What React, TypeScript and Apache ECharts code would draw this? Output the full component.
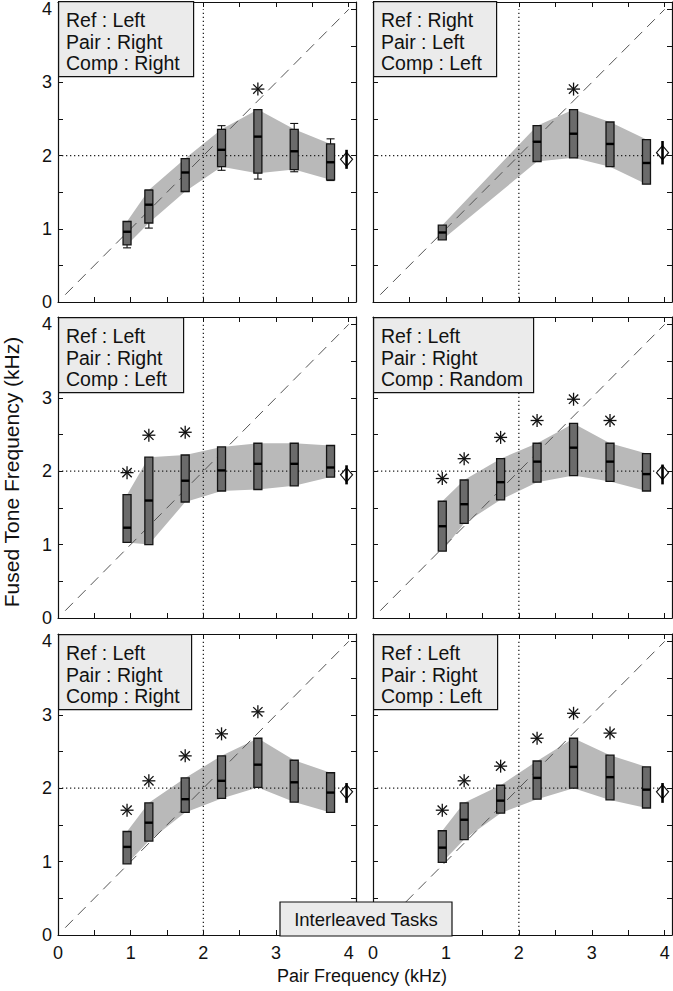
import React, { useEffect, useRef } from "react";
import * as echarts from "echarts";

// ---------------- data ----------------
const tickLabelsShown = [0, 1, 2, 3, 4];
const boxX7 = [0.95, 1.25, 1.75, 2.25, 2.75, 3.25, 3.75];
const boxX5 = [0.95, 2.25, 2.75, 3.25, 3.75];
const diamondX = 3.97;

const panelLabels = [
  ["Ref : Left", "Pair : Right", "Comp : Right"],
  ["Ref : Right", "Pair : Left", "Comp : Left"],
  ["Ref : Left", "Pair : Right", "Comp : Left"],
  ["Ref : Left", "Pair : Right", "Comp : Random"],
  ["Ref : Left", "Pair : Right", "Comp : Right"],
  ["Ref : Left", "Pair : Right", "Comp : Left"],
];

// panel A (top left)
const aLow = [0.78, 1.08, 1.51, 1.85, 1.76, 1.81, 1.67];
const aMed = [0.96, 1.33, 1.77, 2.08, 2.26, 2.06, 1.91];
const aHigh = [1.1, 1.53, 1.96, 2.36, 2.63, 2.36, 2.16];
const aWhiskLow = [0.74, 1.01, 1.51, 1.8, 1.68, 1.78, 1.66];
const aWhiskHigh = [1.1, 1.53, 1.96, 2.41, 2.63, 2.44, 2.23];
const aStars = [null, null, null, null, 2.91, null, null];

// panel B (top right)
const bLow = [0.85, 1.92, 1.97, 1.85, 1.61];
const bMed = [0.95, 2.19, 2.3, 2.16, 1.9];
const bHigh = [1.05, 2.41, 2.63, 2.46, 2.22];
const bStars = [null, null, 2.91, null, null];

// panel C (middle left)
const cLow = [1.03, 1.0, 1.58, 1.73, 1.75, 1.8, 1.92];
const cMed = [1.23, 1.6, 1.87, 2.01, 2.1, 2.1, 2.05];
const cHigh = [1.68, 2.19, 2.22, 2.33, 2.38, 2.38, 2.35];
const cStars = [1.98, 2.49, 2.53, null, null, null, null];

// panel D (middle right)
const dLow = [0.91, 1.29, 1.61, 1.85, 1.94, 1.86, 1.73];
const dMed = [1.25, 1.55, 1.85, 2.13, 2.32, 2.13, 1.96];
const dHigh = [1.59, 1.88, 2.17, 2.38, 2.65, 2.38, 2.24];
const dStars = [1.9, 2.17, 2.46, 2.69, 2.98, 2.69, null];

// panel E (bottom left)
const eLow = [0.97, 1.28, 1.67, 1.86, 2.01, 1.81, 1.67];
const eMed = [1.2, 1.53, 1.85, 2.1, 2.32, 2.08, 1.94];
const eHigh = [1.41, 1.8, 2.14, 2.44, 2.68, 2.38, 2.21];
const eStars = [1.7, 2.1, 2.44, 2.74, 3.04, null, null];

// panel F (bottom right)
const fLow = [0.99, 1.3, 1.66, 1.85, 2.0, 1.84, 1.73];
const fMed = [1.19, 1.57, 1.83, 2.14, 2.29, 2.15, 1.98];
const fHigh = [1.42, 1.8, 2.04, 2.37, 2.68, 2.45, 2.29];
const fStars = [1.7, 2.1, 2.3, 2.68, 3.02, 2.75, null];

// reference diamond (mean, low, high) per panel
const refMean = [1.95, 2.04, 1.95, 1.98, 1.95, 1.95];
const refLow = [1.82, 1.88, 1.82, 1.82, 1.8, 1.8];
const refHigh = [2.08, 2.2, 2.08, 2.09, 2.07, 2.07];

// ---------------- layout ----------------
const FONT = '"Liberation Sans", Arial, Helvetica, sans-serif';
const grids = [
  { left: 58, top: 2, width: 298, height: 300 },
  { left: 373, top: 2, width: 299, height: 300 },
  { left: 58, top: 317, width: 298, height: 301 },
  { left: 373, top: 317, width: 299, height: 301 },
  { left: 58, top: 634, width: 298, height: 301 },
  { left: 373, top: 634, width: 299, height: 301 },
];
const legendWidths = [135, 123, 125, 160, 133, 124];

type Panel = {
  xs: number[];
  low: number[];
  med: number[];
  high: number[];
  wLow?: number[];
  wHigh?: number[];
  stars: (number | null)[];
};

const panels: Panel[] = [
  { xs: boxX7, low: aLow, med: aMed, high: aHigh, wLow: aWhiskLow, wHigh: aWhiskHigh, stars: aStars },
  { xs: boxX5, low: bLow, med: bMed, high: bHigh, stars: bStars },
  { xs: boxX7, low: cLow, med: cMed, high: cHigh, stars: cStars },
  { xs: boxX7, low: dLow, med: dMed, high: dHigh, stars: dStars },
  { xs: boxX7, low: eLow, med: eMed, high: eHigh, stars: eStars },
  { xs: boxX7, low: fLow, med: fMed, high: fHigh, stars: fStars },
];

function buildOption() {
  const xAxis: any[] = [];
  const yAxis: any[] = [];
  const series: any[] = [];
  const graphic: any[] = [];

  const axisBase = (gridIndex: number) => ({
    type: "value",
    gridIndex,
    min: 0,
    max: 4.1,
    interval: 0.5,
    axisLine: { show: true, onZero: false, lineStyle: { color: "#111", width: 1.2 } },
    axisTick: { show: true, inside: true, length: 5, lineStyle: { color: "#111", width: 1 } },
    splitLine: { show: false },
  });
  const labelCfg = (show: boolean, margin: number) => ({
    show,
    fontSize: 18,
    fontFamily: FONT,
    color: "#111",
    margin,
    formatter: (v: number) =>
      tickLabelsShown.indexOf(Math.round(v * 1000) / 1000) >= 0 ? String(v) : "",
  });

  panels.forEach((p, i) => {
    const bottomRow = i >= 4;
    const leftCol = i % 2 === 0;
    xAxis.push({ ...axisBase(i), position: "bottom", axisLabel: labelCfg(bottomRow, 9) });
    xAxis.push({ ...axisBase(i), position: "top", axisLabel: { show: false } });
    yAxis.push({ ...axisBase(i), position: "left", axisLabel: labelCfg(leftCol, 6) });
    yAxis.push({ ...axisBase(i), position: "right", axisLabel: { show: false } });
    const xi = 2 * i;
    const yi = 2 * i;

    // grey band
    series.push({
      type: "custom",
      xAxisIndex: xi,
      yAxisIndex: yi,
      silent: true,
      z: 1,
      clip: false,
      encode: { x: 0, y: [1, 2] },
      data: p.xs.map((x, k) => [x, p.low[k], p.high[k]]),
      renderItem: (params: any, api: any) => {
        if (params.dataIndex !== 0) return null;
        const pts: number[][] = [];
        p.xs.forEach((x, k) => pts.push(api.coord([x, p.high[k]])));
        for (let k = p.xs.length - 1; k >= 0; k--) pts.push(api.coord([p.xs[k], p.low[k]]));
        return { type: "polygon", shape: { points: pts }, style: { fill: "#b9b9b9", stroke: "none" } };
      },
    });

    // reference lines
    series.push({
      type: "line",
      xAxisIndex: xi,
      yAxisIndex: yi,
      silent: true,
      symbol: "none",
      z: 2,
      data: [
        [0.1, 0.1],
        [4, 4],
      ],
      lineStyle: { color: "#555", width: 1, type: [11, 7] },
    });
    series.push({
      type: "line",
      xAxisIndex: xi,
      yAxisIndex: yi,
      silent: true,
      symbol: "none",
      z: 2,
      data: [
        [2, 0],
        [2, 4],
      ],
      lineStyle: { color: "#222", width: 1.3, type: [1.3, 2.7] },
    });
    series.push({
      type: "line",
      xAxisIndex: xi,
      yAxisIndex: yi,
      silent: true,
      symbol: "none",
      z: 2,
      data: [
        [0, 2],
        [4, 2],
      ],
      lineStyle: { color: "#222", width: 1.3, type: [1.3, 2.7] },
    });

    // boxes
    const hasWhisk = !!p.wLow;
    series.push({
      type: "custom",
      xAxisIndex: xi,
      yAxisIndex: yi,
      silent: true,
      z: 3,
      clip: false,
      encode: { x: 0, y: [1, 2, 3, 4, 5] },
      data: p.xs.map((x, k) => [
        x,
        p.low[k],
        p.med[k],
        p.high[k],
        hasWhisk ? p.wLow![k] : p.low[k],
        hasWhisk ? p.wHigh![k] : p.high[k],
      ]),
      renderItem: (params: any, api: any) => {
        const x = api.value(0);
        const top = api.coord([x, api.value(3)]);
        const bot = api.coord([x, api.value(1)]);
        const mid = api.coord([x, api.value(2)]);
        const hw = 4;
        const children: any[] = [];
        if (hasWhisk) {
          const wt = api.coord([x, api.value(5)]);
          const wb = api.coord([x, api.value(4)]);
          const st = { stroke: "#111", lineWidth: 1.1 };
          children.push({ type: "line", shape: { x1: wt[0], y1: wt[1], x2: top[0], y2: top[1] }, style: st });
          children.push({ type: "line", shape: { x1: bot[0], y1: bot[1], x2: wb[0], y2: wb[1] }, style: st });
          children.push({ type: "line", shape: { x1: wt[0] - hw, y1: wt[1], x2: wt[0] + hw, y2: wt[1] }, style: st });
          children.push({ type: "line", shape: { x1: wb[0] - hw, y1: wb[1], x2: wb[0] + hw, y2: wb[1] }, style: st });
        }
        children.push({
          type: "rect",
          shape: { x: top[0] - hw, y: top[1], width: 2 * hw, height: bot[1] - top[1] },
          style: { fill: "#6b6b6b", stroke: "#141414", lineWidth: 1.3 },
        });
        children.push({
          type: "line",
          shape: { x1: mid[0] - hw, y1: mid[1], x2: mid[0] + hw, y2: mid[1] },
          style: { stroke: "#000", lineWidth: 2.4 },
        });
        return { type: "group", children };
      },
    });

    // asterisks
    const starData: number[][] = [];
    p.stars.forEach((s, k) => {
      if (s !== null) starData.push([p.xs[k], s]);
    });
    series.push({
      type: "custom",
      xAxisIndex: xi,
      yAxisIndex: yi,
      silent: true,
      z: 4,
      clip: false,
      encode: { x: 0, y: 1 },
      data: starData,
      renderItem: (params: any, api: any) => {
        const c = api.coord([api.value(0), api.value(1)]);
        const r = 6.5;
        const d = r * 0.72;
        const st = { stroke: "#111", lineWidth: 1.3 };
        return {
          type: "group",
          children: [
            { type: "line", shape: { x1: c[0] - r, y1: c[1], x2: c[0] + r, y2: c[1] }, style: st },
            { type: "line", shape: { x1: c[0], y1: c[1] - r, x2: c[0], y2: c[1] + r }, style: st },
            { type: "line", shape: { x1: c[0] - d, y1: c[1] - d, x2: c[0] + d, y2: c[1] + d }, style: st },
            { type: "line", shape: { x1: c[0] - d, y1: c[1] + d, x2: c[0] + d, y2: c[1] - d }, style: st },
          ],
        };
      },
    });

    // reference diamond with error bar
    series.push({
      type: "custom",
      xAxisIndex: xi,
      yAxisIndex: yi,
      silent: true,
      z: 4,
      clip: false,
      encode: { x: 0, y: [1, 2, 3] },
      data: [[diamondX, refMean[i], refLow[i], refHigh[i]]],
      renderItem: (params: any, api: any) => {
        const x = api.value(0);
        const c = api.coord([x, api.value(1)]);
        const lo = api.coord([x, api.value(2)]);
        const hi = api.coord([x, api.value(3)]);
        return {
          type: "group",
          children: [
            {
              type: "polygon",
              shape: {
                points: [
                  [c[0], c[1] - 7],
                  [c[0] + 6, c[1]],
                  [c[0], c[1] + 7],
                  [c[0] - 6, c[1]],
                ],
              },
              style: { fill: "#fff", stroke: "#111", lineWidth: 1.2 },
            },
            {
              type: "line",
              shape: { x1: hi[0], y1: hi[1], x2: lo[0], y2: lo[1] },
              style: { stroke: "#000", lineWidth: 2.6 },
            },
          ],
        };
      },
    });

    // legend-like label box
    const g = grids[i];
    const boxTop = i < 2 ? 1 : g.top;
    graphic.push({
      type: "rect",
      left: g.left,
      top: boxTop,
      shape: { x: 0, y: 0, width: legendWidths[i], height: 75 },
      style: { fill: "#ebebeb", stroke: "#111", lineWidth: 1.2 },
      z: 100,
      silent: true,
    });
    panelLabels[i].forEach((t, k) => {
      graphic.push({
        type: "text",
        x: g.left + 8,
        y: boxTop + 19 + k * 21.5,
        z: 101,
        silent: true,
        style: {
          text: t,
          font: `19.5px ${FONT}`,
          fill: "#111",
          textAlign: "left",
          textVerticalAlign: "middle",
        },
      });
    });
  });

  // interleaved tasks box
  graphic.push({
    type: "rect",
    x: 280,
    y: 902,
    shape: { x: 0, y: 0, width: 172, height: 34 },
    style: { fill: "#ebebeb", stroke: "#111", lineWidth: 1.2 },
    z: 100,
    silent: true,
  });
  graphic.push({
    type: "text",
    x: 366,
    y: 919,
    z: 101,
    silent: true,
    style: {
      text: "Interleaved Tasks",
      font: `18.5px ${FONT}`,
      fill: "#111",
      textAlign: "center",
      textVerticalAlign: "middle",
    },
  });
  // axis titles
  graphic.push({
    type: "text",
    x: 362,
    y: 976,
    z: 101,
    silent: true,
    style: {
      text: "Pair Frequency (kHz)",
      font: `18px ${FONT}`,
      fill: "#111",
      textAlign: "center",
      textVerticalAlign: "middle",
    },
  });
  graphic.push({
    type: "text",
    x: 11,
    y: 472,
    rotation: Math.PI / 2,
    z: 101,
    silent: true,
    style: {
      text: "Fused Tone Frequency (kHz)",
      font: `21px ${FONT}`,
      fill: "#111",
      textAlign: "center",
      textVerticalAlign: "middle",
    },
  });

  return {
    animation: false,
    backgroundColor: "#fff",
    textStyle: { fontFamily: FONT },
    grid: grids.map((g) => ({ ...g, containLabel: false, outerBoundsMode: "none" })),
    xAxis,
    yAxis,
    series,
    graphic,
  };
}

export default function App() {
  const ref = useRef<HTMLDivElement>(null);
  useEffect(() => {
    document.body.style.margin = "0";
    const chart = echarts.init(ref.current!, null, { renderer: "svg" });
    chart.setOption(buildOption() as any);
    return () => chart.dispose();
  }, []);
  return <div ref={ref} style={{ width: 673, height: 991 }} />;
}
